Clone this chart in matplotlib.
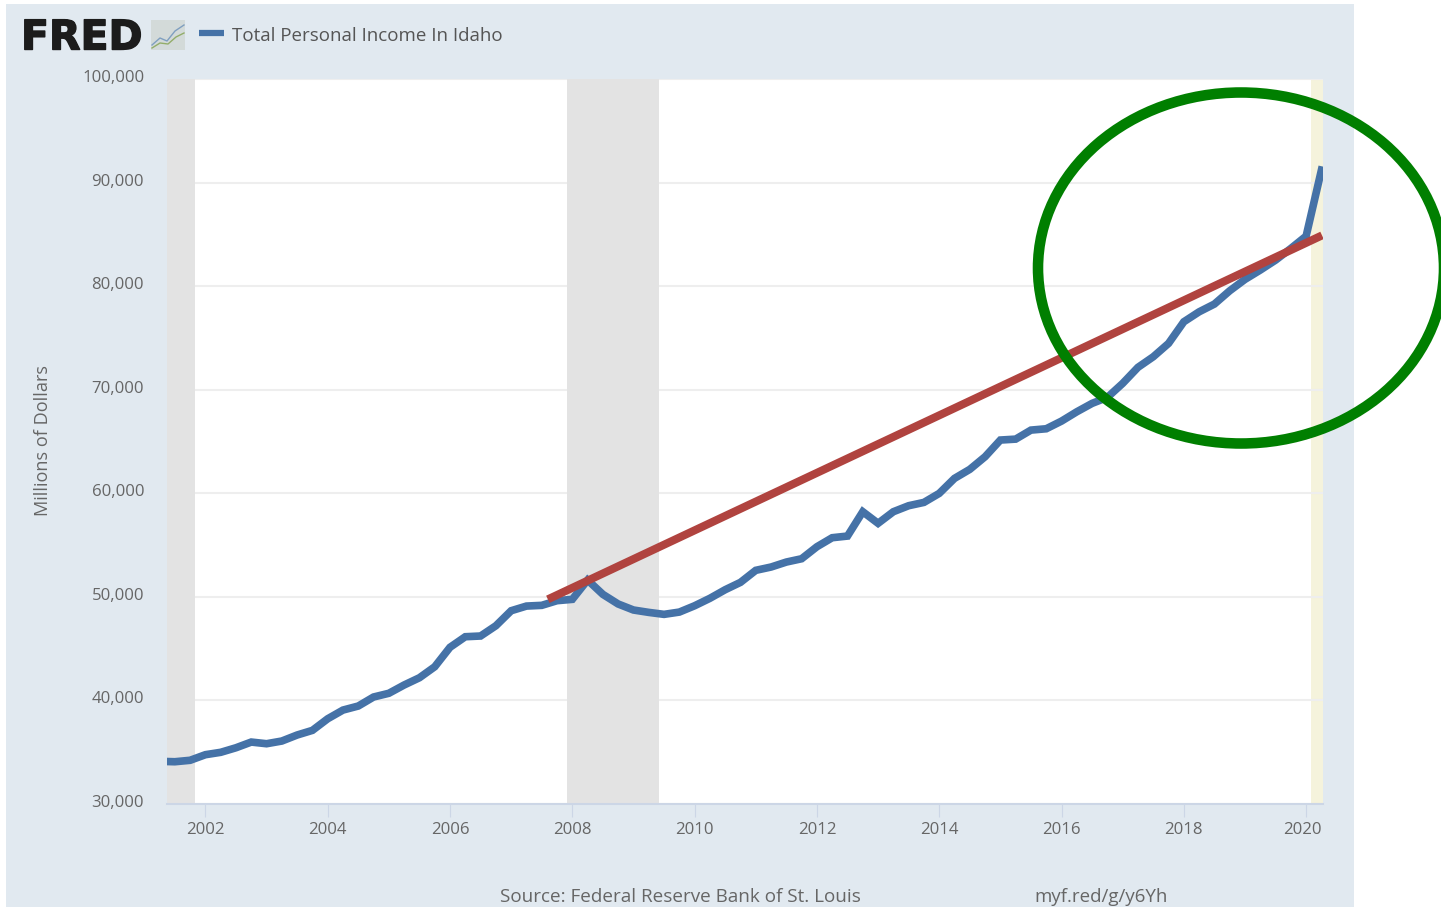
import numpy as np
import matplotlib
matplotlib.use("Agg")
import matplotlib.pyplot as plt
import matplotlib.patheffects as pe
from matplotlib.patches import Ellipse, Rectangle
from matplotlib.transforms import ScaledTranslation

W, H = 1441, 907

# quarterly values, 2001 Q2 to 2020 Q2
income = [
    34120, 34080, 34220, 34760, 34990, 35430, 35980, 35820, 36080, 36660,
    37110, 38230, 39070, 39460, 40330, 40690, 41490, 42190, 43250, 45130,
    46150, 46220, 47210, 48660, 49110, 49180, 49630, 49760, 51620, 50240,
    49310, 48730, 48500, 48310, 48530, 49140, 49860, 50690, 51400, 52560,
    52880, 53360, 53680, 54840, 55710, 55870, 58220, 57100, 58220, 58800,
    59120, 59990, 61440, 62310, 63530, 65140, 65230, 66100, 66230, 66970,
    67870, 68680, 69260, 70610, 72160, 73180, 74470, 76560, 77520, 78270,
    79550, 80650, 81550, 82510, 83640, 84830, 91200,
]
first_quarter = 2001.25

trend_years = [2007.60, 2020.26]
trend_values = [49760, 84900]

recessions = [(2001.25, 2001.83), (2007.92, 2009.42)]
covid_band = (2020.08, 2020.33)

year_ticks = list(range(2002, 2021, 2))
value_ticks = list(range(30000, 100001, 10000))

PANEL = "#e1e9f0"
BLUE = "#4572a7"
RED = "#b0433f"
GREEN = "#007f00"
TEXT = "#666666"

plt.rcParams["font.family"] = ["Open Sans", "DejaVu Sans"]


def pixel_axes(fig, zorder):
    # full figure axes that work in picture pixels, for the furniture round the chart
    a = fig.add_axes([0, 0, 1, 1], zorder=zorder)
    a.set_xlim(0, W)
    a.set_ylim(H, 0)
    a.axis("off")
    return a


fig = plt.figure(figsize=(W / 100, H / 100), dpi=100, facecolor="white")

back = pixel_axes(fig, 0)
back.add_patch(Rectangle((6, 4), 1348, 903, color=PANEL, lw=0))

# logo and legend
logo = back.text(21, 38.5, "FRED", family="DejaVu Sans", fontweight="bold", fontsize=29.5,
                 color="#1c1c1c", va="center", ha="left")
logo.set_path_effects([pe.withStroke(linewidth=1, foreground="#1c1c1c")])
back.add_patch(Rectangle((151, 20), 34, 30, color="#d3dad9", lw=0))
back.plot([152, 160, 167, 175, 184], [45, 38, 41, 31, 25], color="#7f9fc0", lw=1)
back.plot([152, 160, 168, 176, 184], [48, 43, 44, 37, 33], color="#93ad6a", lw=1)
back.plot([199, 224], [33, 33], color=BLUE, lw=4.5, solid_capstyle="butt")
back.text(232, 36, "Total Personal Income In Idaho", fontsize=13.5, color="#555555",
          va="center", ha="left")

back.text(43, 441, "Millions of Dollars", fontsize=13.1, color=TEXT, rotation=90,
          va="center", ha="center")
back.text(500, 897, "Source: Federal Reserve Bank of St. Louis", fontsize=13.55, color=TEXT,
          va="center", ha="left")
back.text(1034, 897, "myf.red/g/y6Yh", fontsize=13.5, color=TEXT, va="center", ha="left")

ax = fig.add_axes([167 / W, 1 - 804 / H, (1323 - 167) / W, (804 - 79) / H], zorder=1)
ax.set_facecolor("white")
ax.set_xlim(2001.372, 2020.276)
ax.set_ylim(30000, 100000)

years = first_quarter + 0.25 * np.arange(len(income))

ax.axvspan(*covid_band, color="#f5f3dc", lw=0, zorder=0.5)
ax.grid(axis="y", color="#eeeeee", lw=1.5, zorder=1)
ax.set_axisbelow(True)
for start, end in recessions:
    ax.axvspan(start, end, color="#e3e3e3", lw=0, zorder=2)

ax.plot(years, income, color=BLUE, lw=5.5, solid_joinstyle="miter", zorder=3)
ax.plot(trend_years, trend_values, color=RED, lw=5.8, solid_capstyle="butt", zorder=4)

for side in ["top", "left", "right"]:
    ax.spines[side].set_visible(False)
ax.spines["bottom"].set_color("#ccd6e6")
ax.spines["bottom"].set_linewidth(1.5)

ax.set_xticks(year_ticks)
ax.set_xticklabels([str(y) for y in year_ticks])
ax.set_yticks(value_ticks)
ax.set_yticklabels([f"{v:,}" for v in value_ticks])
ax.tick_params(axis="x", length=9.5, width=0.8, color="#ccd6e6", labelcolor=TEXT,
               labelsize=12.1, pad=3.7)
ax.tick_params(axis="y", length=0, labelcolor=TEXT, labelsize=12.1, pad=16.5)

# the y labels sit a little above their grid lines, the 2020 label is pushed inside
up = ScaledTranslation(0, 3 / 100, fig.dpi_scale_trans)
for label in ax.get_yticklabels():
    label.set_transform(label.get_transform() + up)
left = ScaledTranslation(-4 / 100, 0, fig.dpi_scale_trans)
last = ax.get_xticklabels()[-1]
last.set_transform(last.get_transform() + left)

front = pixel_axes(fig, 2)
front.add_patch(Ellipse((1241, 268), 406, 351, fill=False, edgecolor=GREEN, lw=7.6))

fig.savefig("out.png", dpi=100)
